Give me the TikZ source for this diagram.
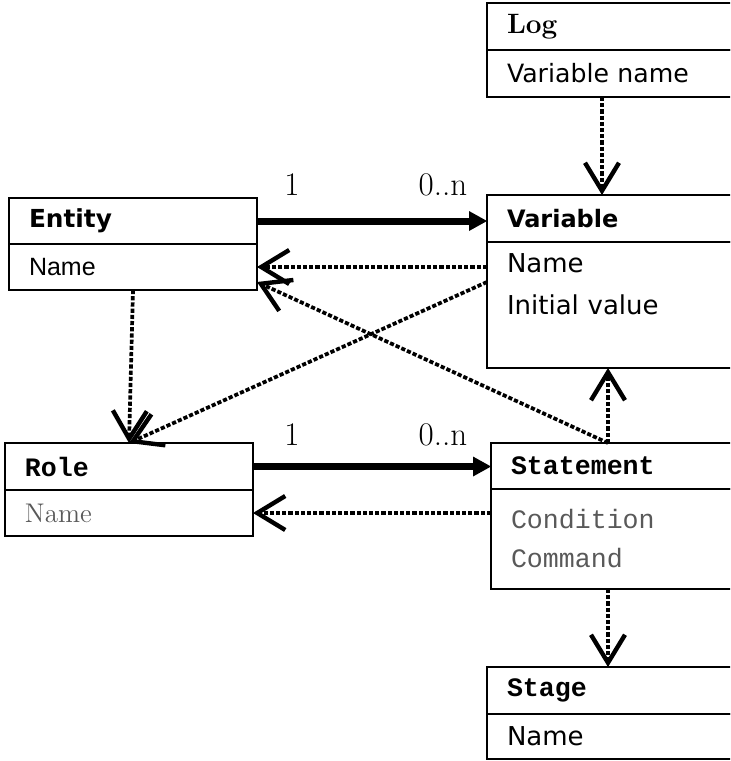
\documentclass[tikz,border=0pt]{standalone}
\usepackage{fontspec}
\newfontfamily\gothic{DejaVu Sans}
\newfontfamily\narrowsans{Liberation Sans}
\setmonofont{Liberation Mono}
\usetikzlibrary{arrows.meta,calc}

\begin{document}
\begin{tikzpicture}[x=0.5pt,y=-0.5pt,
  cls/.style={draw,line width=1.1pt,anchor=north west,outer sep=0pt,inner xsep=10pt,inner ysep=0pt,align=left},
  lcol/.style={cls,text width=104pt},
  rcol/.style={cls,text width=125pt},
  head/.style={minimum height=23.5pt},
  dep/.style={line width=1.85pt,dash pattern=on 2.1pt off 1pt,-{Straight Barb[length=14pt,width=17pt,line width=2.2pt]}},
  assoc/.style={line width=3.5pt,-{Triangle[length=9pt,width=10pt,line width=0pt]}},
  mult/.style={font=\fontsize{16.5}{18}\selectfont}]
            \useasboundingbox (0,0) rectangle (730,761);
            \clip (0,0) rectangle (730,761);

            % classes
            \node[rcol,head,font=\bfseries\fontsize{14}{15}\selectfont] (logt) at (487,3) {Log};
            \node[rcol,head,font=\gothic\fontsize{12.6}{15}\selectfont] (logb) at (logt.south west) {Variable name};

            \node[rcol,head,font=\gothic\bfseries\fontsize{12}{15}\selectfont] (vart) at (487,195) {Variable};
            \node[rcol,minimum height=63pt,font=\gothic\fontsize{13}{21}\selectfont] (varb) at (vart.south west) {Name\\Initial value\\\mbox{}};

            \node[lcol,minimum height=23pt,font=\gothic\bfseries\fontsize{12.4}{15}\selectfont] (entt) at (9,198) {Entity};
            \node[lcol,minimum height=23pt,font=\narrowsans\fontsize{12.5}{15}\selectfont] (entb) at (entt.south west) {Name};

            \node[lcol,head,font=\ttfamily\bfseries\fontsize{13.3}{15}\selectfont] (rolet) at (5,443) {Role};
            \node[lcol,minimum height=23pt,text=black!65,font=\fontsize{13.5}{15}\selectfont] (roleb) at (rolet.south west) {Name};

            \node[rcol,minimum height=23pt,font=\ttfamily\bfseries\fontsize{13.3}{15}\selectfont] (stmt) at (491,443) {Statement};
            \node[rcol,minimum height=50pt,text=black!65,font=\ttfamily\fontsize{13.3}{19.5}\selectfont] (stmb) at (stmt.south west) {Condition\\Command\\[3pt]};

            \node[rcol,head,font=\ttfamily\bfseries\fontsize{13.3}{15}\selectfont] (staget) at (487,667) {Stage};
            \node[rcol,minimum height=22.5pt,font=\gothic\fontsize{13}{15}\selectfont] (stageb) at (staget.south west) {Name};

            % multiplicities
            \node[mult] (m1) at (292,185) {1};
            \node[mult] (mn) at (443,185) {0..n};
            \node[mult] (m2) at (292,435) {1};
            \node[mult] (m2n) at (443,435) {0..n};

            % associations
            \draw[assoc] (entt.east) -- (entt.east -| vart.west);
            \draw[assoc] (rolet.east) -- (rolet.east -| stmt.west);

            % dependencies
            \draw[dep] ([xshift=57.5pt]logb.south west) -- ([xshift=57.5pt]vart.north west);
            \draw[dep] (entb.east -| varb.west) -- (entb.east);
            \draw[dep] ([yshift=-20pt]varb.north west) -- (rolet.north);
            \draw[dep] (entb.south) -- (rolet.north);
            \draw[dep] ([xshift=58.5pt]stmt.north west) -- ([yshift=4pt]entb.south east);
            \draw[dep] ([xshift=58.5pt]stmt.north west) -- ([xshift=58.5pt]stmt.north west |- varb.south);
            \draw[dep] (roleb.east -| stmb.west) -- (roleb.east);
            \draw[dep] ([xshift=58.5pt]stmb.south west) -- ([xshift=58.5pt]stmb.south west |- staget.north);
          \end{tikzpicture}
\end{document}
